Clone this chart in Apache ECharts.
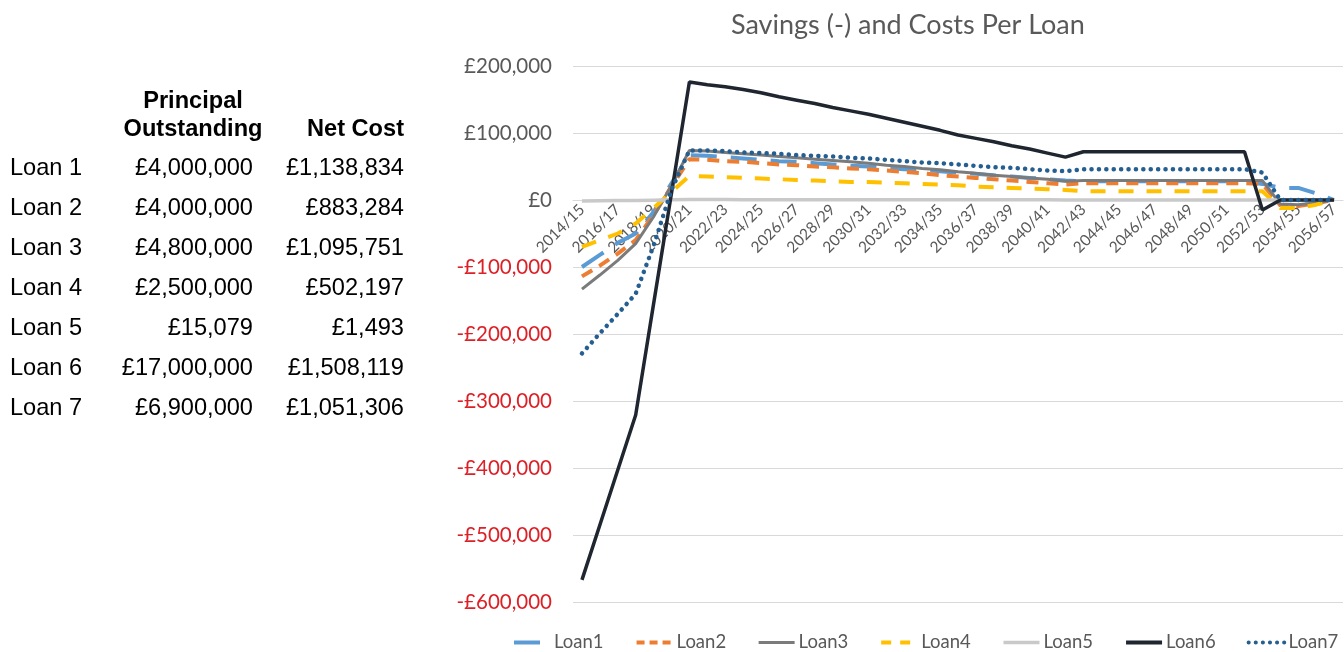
<!DOCTYPE html>
<html><head><meta charset="utf-8">
<script src="https://cdn.jsdelivr.net/npm/echarts@6/dist/echarts.min.js"></script>
<style>
html,body{margin:0;padding:0;background:#fff;}
#chart{position:absolute;left:0;top:0;width:1344px;height:652px;}
.t{position:absolute;font-family:"Liberation Sans",Arial,sans-serif;font-size:23.6px;color:#000;white-space:nowrap;line-height:28px;height:28px;}
.b{font-weight:bold;}
</style></head><body>
<div id="chart"></div>
<div id="tbl"></div>
<script>
// ---- table data ----
const loanNames = ["Loan 1","Loan 2","Loan 3","Loan 4","Loan 5","Loan 6","Loan 7"];
const principalOutstanding = ["£4,000,000","£4,000,000","£4,800,000","£2,500,000","£15,079","£17,000,000","£6,900,000"];
const netCost = ["£1,138,834","£883,284","£1,095,751","£502,197","£1,493","£1,508,119","£1,051,306"];

// ---- chart data ----
const categories = ["2014/15","2015/16","2016/17","2017/18","2018/19","2019/20","2020/21","2021/22","2022/23","2023/24",
"2024/25","2025/26","2026/27","2027/28","2028/29","2029/30","2030/31","2031/32","2032/33","2033/34",
"2034/35","2035/36","2036/37","2037/38","2038/39","2039/40","2040/41","2041/42","2042/43","2043/44",
"2044/45","2045/46","2046/47","2047/48","2048/49","2049/50","2050/51","2051/52","2052/53","2053/54",
"2054/55","2055/56","2056/57"];
const seriesNames = ["Loan1","Loan2","Loan3","Loan4","Loan5","Loan6","Loan7"];
const loan1 = [-100000,-82000,-64000,-50000,-18000,25000,67000,66000,64000,62000,60000,58000,57000,55000,53000,51000,50000,48000,46000,45000,43000,41000,39000,37000,35000,33000,31000,29000,28000,28000,28000,28000,28000,28000,28000,28000,28000,28000,24000,18000,18000,10000,0];
const loan2 = [-114000,-98000,-80000,-60000,-22000,20000,61000,60000,58000,57000,55000,53000,52000,50000,49000,47000,46000,44000,42000,40000,37000,35000,33000,31000,29000,27000,25000,23000,25000,25000,25000,25000,25000,25000,25000,25000,25000,25000,24000,-8000,-9000,-5000,0];
const loan3 = [-133000,-112000,-90000,-65000,-25000,22000,74000,73000,71000,69000,67000,65000,63000,61000,59000,57000,55000,52000,50000,47000,45000,42000,40000,37000,35000,33000,31000,28000,29000,29000,29000,29000,29000,29000,29000,29000,29000,29000,29000,-6000,-7000,-4000,0];
const loan4 = [-70000,-60000,-50000,-35000,-12000,12000,36000,35000,34000,33000,32000,31000,30000,29000,28000,27000,27000,26000,25000,24000,23000,22000,20000,19000,18000,17000,16000,15000,13000,13000,13000,13000,13000,13000,13000,13000,13000,13000,13000,-12000,-12000,-7000,0];
const loan5 = [-1500,-1200,-900,-600,-200,200,600,580,560,540,520,500,480,460,440,420,400,380,360,340,320,300,280,260,240,220,200,180,170,170,170,170,170,170,170,170,170,170,170,0,0,0,0];
const loan6 = [-567000,-485000,-403000,-321000,-155000,10000,176000,172000,169000,165000,160000,154000,149000,144000,138000,133000,128000,122000,116000,110000,104000,97000,92000,87000,81000,76000,70000,64000,72000,72000,72000,72000,72000,72000,72000,72000,72000,72000,-15000,0,0,0,0];
const loan7 = [-229000,-199000,-170000,-140000,-68000,15000,74000,74000,73000,71000,70000,69000,67000,66000,65000,63000,62000,60000,58000,56000,55000,53000,51000,49000,48000,46000,44000,43000,46000,46000,46000,46000,46000,46000,46000,46000,46000,46000,41000,0,0,0,0];
const yTicks = {min:-600000, max:200000, step:100000};

// ---- table render ----
(function(){
  const host = document.getElementById('tbl');
  function add(txt, cls, style){ const d=document.createElement('div'); d.className='t '+(cls||''); d.textContent=txt; Object.assign(d.style, style); host.appendChild(d); }
  add('Principal','b',{left:'93px',width:'200px',textAlign:'center',top:'86px'});
  add('Outstanding','b',{left:'93px',width:'200px',textAlign:'center',top:'114px'});
  add('Net Cost','b',{right:(1344-404)+'px',top:'114px'});
  loanNames.forEach((n,i)=>{
    const top = (153 + 40*i)+'px';
    add(n,'',{left:'10px',top});
    add(principalOutstanding[i],'',{right:(1344-253)+'px',top});
    add(netCost[i],'',{right:(1344-404)+'px',top});
  });
})();

// ---- chart ----
const FONT = 'Lato, "Open Sans", sans-serif';
function money(v){ const s = Math.abs(v).toLocaleString('en-GB'); return (v<0?'-':'')+'£'+s; }
const data = [loan1,loan2,loan3,loan4,loan5,loan6,loan7];
const styles = [
  {color:'#5B9BD5', width:4, type:[26,14], cap:'butt'},
  {color:'#ED7D31', width:4, type:[12,8], cap:'butt'},
  {color:'#7B7B7B', width:3, type:'solid'},
  {color:'#FFC000', width:4, type:[15,13], cap:'butt'},
  {color:'#C9C9C9', width:3.5, type:'solid'},
  {color:'#1F2630', width:3.5, type:'solid'},
  {color:'#255E91', width:4.5, type:[0.1,7.3], cap:'round'}
];
const legendStyles = [
  {color:'#5B9BD5', width:4, type:[26,10], cap:'butt'},
  {color:'#ED7D31', width:4, type:[8,5], cap:'butt'},
  {color:'#7B7B7B', width:3, type:'solid'},
  {color:'#FFC000', width:4, type:[10,9], cap:'butt'},
  {color:'#C9C9C9', width:3.5, type:'solid'},
  {color:'#1F2630', width:4, type:'solid'},
  {color:'#255E91', width:4, type:[0.1,7], cap:'round'}
];
const GRID = {left:573, right:1, top:66, bottom:50};
const plotH = 652 - GRID.top - GRID.bottom;
const zeroOffset = -plotH * (0 - yTicks.min) / (yTicks.max - yTicks.min);
const chart = echarts.init(document.getElementById('chart'), null, {renderer:'canvas'});
chart.setOption({
  animation:false,
  backgroundColor:'#fff',
  title:{text:'Savings (-) and Costs Per Loan', left:726, top:7,
    textStyle:{fontFamily:FONT, fontSize:27, fontWeight:'normal', color:'#595959'}},
  legend:{data:seriesNames.map((n,i)=>({name:n, lineStyle:legendStyles[i]})),
    left:512, bottom:0, padding:0, itemWidth:36, itemHeight:14, itemGap:31,
    itemStyle:{opacity:0},
    textStyle:{fontFamily:FONT, fontSize:18.5, color:'#595959', padding:[0,0,0,-1]}},
  grid:Object.assign({containLabel:false}, GRID),
  xAxis:{type:'category', data:categories, boundaryGap:true, position:'bottom', offset:zeroOffset,
    axisLine:{show:true, onZero:false, lineStyle:{color:'#D9D9D9', width:1}},
    axisTick:{show:false},
    axisLabel:{interval:1, rotate:45, margin:7, fontFamily:FONT, fontSize:15.5, color:'#595959'},
    splitLine:{show:false}},
  yAxis:{type:'value', min:yTicks.min, max:yTicks.max, interval:yTicks.step,
    axisLine:{show:false}, axisTick:{show:false},
    axisLabel:{margin:21, fontFamily:FONT, fontSize:20.5, formatter:money,
      color:function(v){ return Number(v) < 0 ? '#DD1F26' : '#595959'; }},
    splitLine:{lineStyle:{color:'#D9D9D9', width:1}}},
  series: seriesNames.map((n,i)=>({
    name:n, type:'line', data:data[i], symbol:'none', showSymbol:false, smooth:false,
    lineStyle:styles[i], itemStyle:{color:styles[i].color}, z:2+i
  }))
});
</script>
</body></html>
